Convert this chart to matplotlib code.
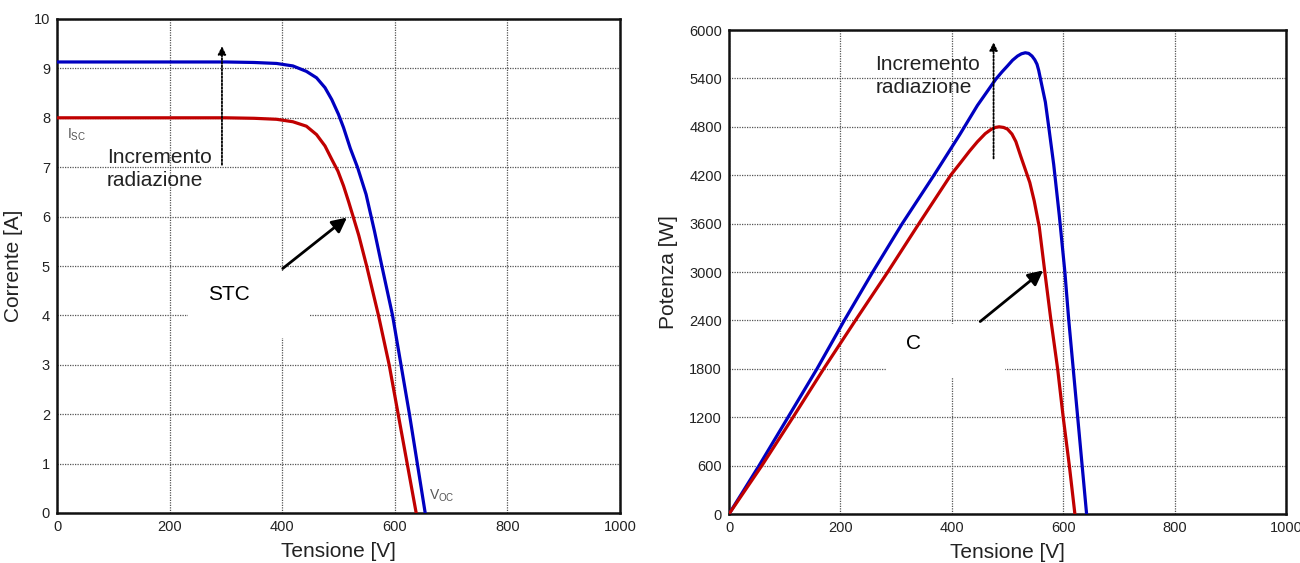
import matplotlib
matplotlib.use("Agg")
import matplotlib.pyplot as plt
from matplotlib.patches import Rectangle

plt.rcParams['font.family'] = ['Liberation Sans', 'DejaVu Sans']
plt.rcParams['mathtext.fontset'] = 'custom'
plt.rcParams['mathtext.rm'] = 'Liberation Sans'

# curva I-V, STC (rosso)
v_iv_stc = [0, 100, 200, 300, 350, 390, 419, 443, 461, 476, 488, 499, 509, 518, 526,
            536, 550, 571, 590, 606, 622, 638]
i_iv_stc = [8.0, 8.0, 8.0, 8.0, 7.99, 7.97, 7.92, 7.83, 7.66, 7.43, 7.16, 6.92, 6.62,
            6.30, 6.0, 5.62, 5.0, 4.0, 3.0, 2.0, 1.0, 0.0]
# curva I-V, radiazione maggiore (blu)
v_iv_hi = [0, 100, 200, 300, 350, 390, 419, 443, 461, 476, 488, 500, 509, 521, 534,
           549, 564, 577, 596, 611, 626, 640, 654]
i_iv_hi = [9.13, 9.13, 9.13, 9.13, 9.12, 9.10, 9.05, 8.94, 8.81, 8.61, 8.37, 8.07,
           7.80, 7.38, 6.99, 6.45, 5.70, 5.0, 4.0, 3.0, 2.0, 1.0, 0.0]

# curva P-V, STC (rosso)
v_pv_stc = [0, 59, 115, 170, 227, 285, 341, 398, 414, 432, 446, 460, 470, 478, 485,
            493, 500, 508, 515, 524, 532, 540, 548, 557, 567, 578, 590, 600, 611, 621]
p_pv_stc = [0, 600, 1200, 1800, 2400, 3000, 3600, 4200, 4340, 4500, 4615, 4715, 4765,
            4792, 4800, 4792, 4771, 4710, 4617, 4430, 4270, 4110, 3880, 3560, 3000,
            2400, 1800, 1200, 600, 0]
# curva P-V, radiazione maggiore (blu)
v_pv_hi = [0, 54, 106, 158, 207, 258, 311, 368, 414, 446, 479, 490, 500, 509, 518,
           525, 532, 538, 544, 549, 553, 556, 559, 568, 574, 583, 593, 603, 610, 618,
           626, 634, 642]
p_pv_hi = [0, 600, 1200, 1800, 2400, 3000, 3600, 4200, 4700, 5065, 5390, 5480, 5555,
           5625, 5677, 5705, 5718, 5710, 5677, 5630, 5575, 5500, 5400, 5106, 4800,
           4330, 3700, 3000, 2400, 1800, 1200, 600, 0]

x_ticks = [0, 200, 400, 600, 800, 1000]
i_ticks = list(range(0, 11))
p_ticks = list(range(0, 6001, 600))

RED = '#c00000'
BLUE = '#0000c0'
TXT = 15


def style_axes(ax):
    ax.grid(True, linestyle=(0, (1, 1)), color='#555555', linewidth=0.9)
    ax.set_axisbelow(True)
    for s in ax.spines.values():
        s.set_linewidth(1.8)
        s.set_color('#111111')
    ax.tick_params(length=0, pad=5, labelsize=10.5, labelcolor='#222222')


def curve(ax, x, y, color):
    ax.plot(x, y, color=color, lw=2.3, zorder=3,
            solid_joinstyle='round', solid_capstyle='round')


fig = plt.figure(figsize=(13, 5.63), dpi=100)

# --- corrente ---
ax1 = fig.add_axes([57 / 1300, 50 / 563, 563 / 1300, 494 / 563])
style_axes(ax1)
ax1.set_xlim(0, 1000)
ax1.set_ylim(0, 10)
ax1.set_xticks(x_ticks)
ax1.set_yticks(i_ticks)
curve(ax1, v_iv_hi, i_iv_hi, BLUE)
curve(ax1, v_iv_stc, i_iv_stc, RED)
ax1.add_patch(Rectangle((233, 3.54), 215, 1.36, facecolor='white', edgecolor='none', zorder=1))
ax1.text(306, 4.42, 'STC', fontsize=TXT, ha='center', va='center', zorder=4)
ax1.annotate('', xy=(515, 5.98), xytext=(401, 4.95),
             arrowprops=dict(arrowstyle='-|>', color='black', lw=2, mutation_scale=22,
                             shrinkA=0, shrinkB=0), zorder=4)
ax1.annotate('', xy=(293, 9.45), xytext=(293, 7.05),
             arrowprops=dict(arrowstyle='-|>', color='black', lw=1.3, linestyle=(0, (1, 1)),
                             mutation_scale=12, shrinkA=0, shrinkB=0), zorder=4)
ax1.text(89, 7.38, 'Incremento\nradiazione', fontsize=TXT, ha='left', va='top',
         linespacing=1.25, color='#222222')
ax1.text(18, 7.65, r'I$_{\mathrm{SC}}$', fontsize=10, color='#555555', va='center')
ax1.text(660, 0.35, r'V$_{\mathrm{OC}}$', fontsize=10, color='#555555', va='center')
ax1.set_xlabel('Tensione [V]', fontsize=TXT, color='#222222', labelpad=6)
ax1.set_ylabel('Corrente [A]', fontsize=TXT, color='#222222', labelpad=8)

# --- potenza ---
ax2 = fig.add_axes([729 / 1300, 49 / 563, 557 / 1300, 484 / 563])
style_axes(ax2)
ax2.set_xlim(0, 1000)
ax2.set_ylim(0, 6000)
ax2.set_xticks(x_ticks)
ax2.set_yticks(p_ticks)
curve(ax2, v_pv_hi, p_pv_hi, BLUE)
curve(ax2, v_pv_stc, p_pv_stc, RED)
ax2.add_patch(Rectangle((282, 1700), 213, 660, facecolor='white', edgecolor='none', zorder=1))
ax2.text(331, 2110, 'C', fontsize=TXT, ha='center', va='center', zorder=4)
ax2.annotate('', xy=(564, 3020), xytext=(451, 2386),
             arrowprops=dict(arrowstyle='-|>', color='black', lw=2, mutation_scale=22,
                             shrinkA=0, shrinkB=0), zorder=4)
ax2.annotate('', xy=(475, 5848), xytext=(475, 4408),
             arrowprops=dict(arrowstyle='-|>', color='black', lw=1.3, linestyle=(0, (1, 1)),
                             mutation_scale=12, shrinkA=0, shrinkB=0), zorder=4)
ax2.text(263, 5690, 'Incremento\nradiazione', fontsize=TXT, ha='left', va='top',
         linespacing=1.25, color='#222222')
ax2.set_xlabel('Tensione [V]', fontsize=TXT, color='#222222', labelpad=6)
ax2.set_ylabel('Potenza [W]', fontsize=TXT, color='#222222', labelpad=8)

fig.savefig('out.png', dpi=100, facecolor='white')
